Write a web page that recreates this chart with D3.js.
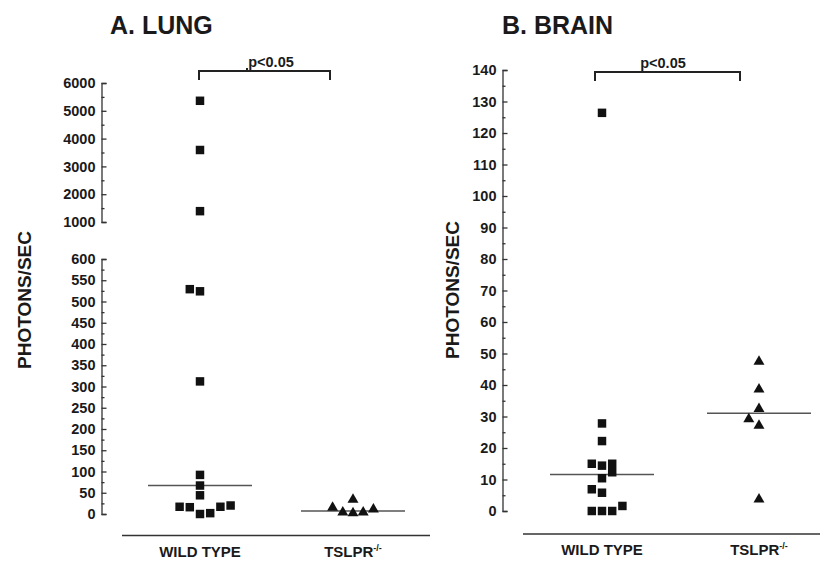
<!DOCTYPE html>
<meta charset="utf-8">
<style>
  body { margin: 0; background: #fff; }
  svg text { font-family: "Liberation Sans", Arial, sans-serif; font-weight: bold; fill: #1a1a1a; }
</style>
<body>
<script src="https://cdn.jsdelivr.net/npm/d3@7"></script>
<script>
// groups and values
var groups = ["WILD TYPE", "TSLPR"];

var lungWtValues = [5360, 3590, 1390, 529, 524, 312, 92, 67, 44, 17, 16, 0, 2, 17, 20];
var lungWtSlots  = [0, 0, 0, -1, 0, 0, 0, 0, 0, -2, -1, 0, 1, 2, 3];
var lungKoValues = [15, 4, 34, 2, 4, 11];
var lungKoSlots  = [-2, -1, 0, 0, 1, 2];
var lungMedians  = [67, 7];

var brainWtValues = [126.4, 27.8, 22.2, 15, 14.4, 15, 12.3, 10.4, 6.9, 5.8, 0, 0, 0, 1.6];
var brainWtSlots  = [0, 0, 0, -1, 0, 1, 1, 0, -1, 0, -1, 0, 1, 2];
var brainKoValues = [47.4, 38.6, 32.4, 29.2, 27.1, 3.7];
var brainKoSlots  = [0, 0, 0, -1, 0, 0];
var brainMedians  = [11.6, 31];

var lungUpperTicks = d3.range(1000, 6001, 1000);
var lungUpperMinor = d3.range(1500, 6000, 1000);
var lungLowerTicks = d3.range(0, 601, 50);
var lungLowerMinor = d3.range(25, 600, 50);
var brainTicks = d3.range(0, 141, 10);
var brainMinor = d3.range(5, 140, 10);

var svg = d3.select("body").append("svg")
  .attr("width", 827)
  .attr("height", 562);

// slot offset for jittered points
var slot = d3.scaleLinear().domain([0, 1]).range([0, 10.2]);
var sq = d3.symbol().type(d3.symbolSquare).size(72);
var tri = d3.symbol().type(d3.symbolTriangle).size(52);

function drawAxis(g, scale, ticks, minor, axisX) {
  var ax = g.append("g").attr("transform", "translate(" + axisX + ",0)");
  ax.call(d3.axisLeft(scale).tickValues(ticks).tickSize(-5).tickPadding(6).tickFormat(d3.format("d")));
  ax.append("g").call(d3.axisLeft(scale).tickValues(minor).tickSize(-3).tickFormat(""))
    .select(".domain").remove();
  ax.selectAll("path, line").attr("stroke", "#333").attr("stroke-width", 1.3);
  ax.selectAll("text").attr("font-size", 14.5).attr("fill", "#1a1a1a")
    .style("font-family", "'Liberation Sans', Arial, sans-serif").style("font-weight", "bold");
}

function drawPoints(g, x, y, group, values, slots, shape) {
  g.selectAll(null)
    .data(values)
    .enter().append("path")
    .attr("d", shape)
    .attr("fill", "#111")
    .attr("transform", function (d, i) {
      return "translate(" + (x(group) + slot(slots[i])) + "," + y(d) + ")";
    });
}

function drawMedians(g, x, y, medians) {
  g.selectAll(null)
    .data(medians)
    .enter().append("line")
    .attr("x1", function (d, i) { return x(groups[i]) - 52; })
    .attr("x2", function (d, i) { return x(groups[i]) + 52; })
    .attr("y1", function (d) { return y(d); })
    .attr("y2", function (d) { return y(d); })
    .attr("stroke", "#555")
    .attr("stroke-width", 1.5);
}

function drawGroupLabels(g, x, baseY, lineX1, lineX2) {
  g.append("line")
    .attr("x1", lineX1).attr("x2", lineX2)
    .attr("y1", baseY).attr("y2", baseY)
    .attr("stroke", "#333").attr("stroke-width", 1.5);
  g.append("text")
    .attr("x", x(groups[0])).attr("y", baseY + 21)
    .attr("text-anchor", "middle").attr("font-size", 15)
    .text(groups[0]);
  var t = g.append("text")
    .attr("x", x(groups[1])).attr("y", baseY + 21)
    .attr("text-anchor", "middle").attr("font-size", 15);
  t.append("tspan").text(groups[1]);
  t.append("tspan").attr("font-size", 9).attr("dy", -6).text("-/-");
}

function drawBracket(g, x1, x2, yTop, midTick, textX) {
  g.append("path")
    .attr("d", "M" + x1 + "," + (yTop + 9) + "V" + yTop + "H" + x2 + "V" + (yTop + 9))
    .attr("fill", "none").attr("stroke", "#222").attr("stroke-width", 2);
  if (midTick) {
    g.append("line").attr("x1", midTick).attr("x2", midTick)
      .attr("y1", yTop).attr("y2", yTop - 3)
      .attr("stroke", "#222").attr("stroke-width", 2);
  }
  g.append("text").attr("x", textX).attr("y", yTop - 4)
    .attr("text-anchor", "middle").attr("font-size", 14.5).text("p<0.05");
}

// ---------- A. LUNG ----------
var gA = svg.append("g");
var xA = d3.scalePoint().domain(groups).range([200, 353]);
var yUpper = d3.scaleLinear().domain([1000, 6000]).range([222, 83]);
var yLower = d3.scaleLinear().domain([0, 600]).range([514, 259]);
function yA(v) { return v >= 1000 ? yUpper(v) : yLower(v); }

gA.append("text").attr("x", 110).attr("y", 34).attr("font-size", 25).text("A. LUNG");
drawAxis(gA, yUpper, lungUpperTicks, lungUpperMinor, 101.5);
drawAxis(gA, yLower, lungLowerTicks, lungLowerMinor, 101.5);

gA.append("text")
  .attr("transform", "translate(31,300) rotate(-90)")
  .attr("text-anchor", "middle").attr("font-size", 19)
  .text("PHOTONS/SEC");

drawMedians(gA, xA, yA, lungMedians);
drawPoints(gA, xA, yA, groups[0], lungWtValues, lungWtSlots, sq);
drawPoints(gA, xA, yA, groups[1], lungKoValues, lungKoSlots, tri);
drawGroupLabels(gA, xA, 535.5, 122, 430);
drawBracket(gA, 199, 330, 71, 247, 271);

// ---------- B. BRAIN ----------
var gB = svg.append("g");
var xB = d3.scalePoint().domain(groups).range([602, 759]);
var yB = d3.scaleLinear().domain([0, 140]).range([511, 70]);

gB.append("text").attr("x", 502).attr("y", 34).attr("font-size", 25).text("B. BRAIN");
drawAxis(gB, yB, brainTicks, brainMinor, 502.5);

gB.append("text")
  .attr("transform", "translate(459,290) rotate(-90)")
  .attr("text-anchor", "middle").attr("font-size", 19)
  .text("PHOTONS/SEC");

drawMedians(gB, xB, yB, brainMedians);
drawPoints(gB, xB, yB, groups[0], brainWtValues, brainWtSlots, sq);
drawPoints(gB, xB, yB, groups[1], brainKoValues, brainKoSlots, tri);
drawGroupLabels(gB, xB, 534, 523, 820);
drawBracket(gB, 595, 740, 72, null, 663);
</script>
</body>
